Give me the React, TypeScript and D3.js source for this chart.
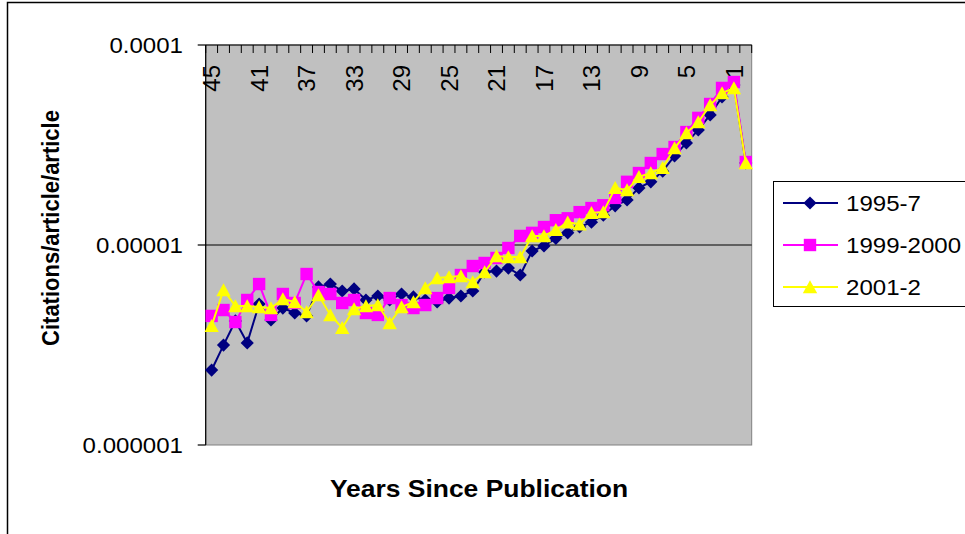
import React from 'react';
import * as d3 from 'd3';

const years = [45, 44, 43, 42, 41, 40, 39, 38, 37, 36, 35, 34, 33, 32, 31, 30, 29, 28, 27, 26, 25, 24, 23, 22, 21, 20, 19, 18, 17, 16, 15, 14, 13, 12, 11, 10, 9, 8, 7, 6, 5, 4, 3, 2, 1, 0];
const labelYears = [45, 41, 37, 33, 29, 25, 21, 17, 13, 9, 5, 1];

const s1995 = [2.37e-6, 3.16e-6, 4.17e-6, 3.24e-6, 5.07e-6, 4.22e-6, 4.84e-6, 4.57e-6, 4.42e-6, 6.17e-6, 6.38e-6, 5.89e-6, 6.03e-6, 5.31e-6, 5.56e-6, 5.31e-6, 5.69e-6, 5.5e-6, 5.31e-6, 5.19e-6, 5.43e-6, 5.56e-6, 5.89e-6, 7.33e-6, 7.41e-6, 7.67e-6, 7.08e-6, 9.33e-6, 9.89e-6, 1.08e-5, 1.15e-5, 1.23e-5, 1.3e-5, 1.41e-5, 1.57e-5, 1.68e-5, 1.93e-5, 2.07e-5, 2.34e-5, 2.79e-5, 3.24e-5, 3.76e-5, 4.47e-5, 5.5e-5, 6.31e-5, 2.57e-5];
const s1999 = [4.42e-6, 4.73e-6, 4.12e-6, 5.31e-6, 6.38e-6, 4.47e-6, 5.69e-6, 5.13e-6, 7.16e-6, 5.82e-6, 5.69e-6, 5.13e-6, 5.31e-6, 4.57e-6, 4.47e-6, 5.43e-6, 5.01e-6, 4.84e-6, 5.01e-6, 5.43e-6, 6.1e-6, 7.08e-6, 7.85e-6, 8.13e-6, 8.61e-6, 9.66e-6, 1.11e-5, 1.15e-5, 1.23e-5, 1.33e-5, 1.36e-5, 1.46e-5, 1.53e-5, 1.58e-5, 1.72e-5, 2.07e-5, 2.29e-5, 2.57e-5, 2.85e-5, 3.09e-5, 3.67e-5, 4.32e-5, 5.07e-5, 6.1e-5, 6.53e-5, 2.6e-5];
const s2001 = [3.94e-6, 5.96e-6, 4.95e-6, 4.95e-6, 4.9e-6, 4.84e-6, 5.37e-6, 5.19e-6, 4.62e-6, 5.62e-6, 4.47e-6, 3.85e-6, 4.79e-6, 4.95e-6, 5.01e-6, 4.07e-6, 4.9e-6, 5.19e-6, 6.1e-6, 6.84e-6, 6.92e-6, 7.0e-6, 6.53e-6, 7.33e-6, 8.81e-6, 8.71e-6, 8.71e-6, 1.11e-5, 1.11e-5, 1.19e-5, 1.3e-5, 1.27e-5, 1.45e-5, 1.46e-5, 1.93e-5, 1.88e-5, 2.19e-5, 2.29e-5, 2.43e-5, 3.05e-5, 3.63e-5, 4.12e-5, 5.01e-5, 5.75e-5, 6.1e-5, 2.57e-5];

const yTicks = [0.0001, 0.00001, 0.000001];
const yTickLabels = ['0.0001', '0.00001', '0.000001'];

const series = [
  { name: '1995-7', values: s1995, color: '#000080', marker: 'diamond' },
  { name: '1999-2000', values: s1999, color: '#ff00ff', marker: 'square' },
  { name: '2001-2', values: s2001, color: '#ffff00', marker: 'triangle' },
];

const FONT = '"Liberation Sans", Arial, Helvetica, sans-serif';
const SX = 1.12;

function Marker({ type, color, cx, cy }) {
  let d;
  if (type === 'diamond') d = 'M0,-6.6L6.6,0L0,6.6L-6.6,0Z';
  else if (type === 'square') d = 'M-6.2,-6.2H6.2V6.2H-6.2Z';
  else d = 'M0,-6.8L7.2,6.2L-7.2,6.2Z';
  return <path d={d} transform={`translate(${cx},${cy})`} fill={color} />;
}

export default function App() {
  const width = 965, height = 534;
  const left = 205.7, right = 751.7, top = 45, bottom = 445;

  const x = d3.scaleBand<number>().domain(years).range([left, right]).padding(0);
  const bw = x.bandwidth();
  const cx = (yr: number) => (x(yr) as number) + bw / 2;
  const y = d3.scaleLog().domain([1e-6, 1e-4]).range([bottom, top]);

  const line = d3.line<number>()
    .x((_, i) => cx(years[i]))
    .y(v => y(v));

  const tickXs = years.map(yr => x(yr) as number).concat([right]);

  return (
    <div style={{ position: 'absolute', left: 0, top: 0 }}>
      <svg width={width} height={height} style={{ display: 'block', fontFamily: FONT }}>
        <rect x={0} y={0} width={width} height={height} fill="#fff" />
        <rect x={7.5} y={2.5} width={1000} height={600} fill="none" stroke="#000" strokeWidth={1.5} />

        {/* plot area */}
        <rect x={left} y={top} width={right - left} height={bottom - top} fill="#c0c0c0" stroke="#808080" strokeWidth={1} />
        <line x1={left} x2={right} y1={y(1e-5)} y2={y(1e-5)} stroke="#000" strokeWidth={1.2} />

        {/* y axis */}
        <line x1={left} x2={left} y1={top} y2={bottom} stroke="#000" strokeWidth={1.2} />
        {yTicks.map((t, i) => (
          <g key={t}>
            <line x1={left - 8} x2={left} y1={y(t)} y2={y(t)} stroke="#000" strokeWidth={1.2} />
            <g transform={`translate(183,${y(t)}) scale(${SX},1)`}>
              <text textAnchor="end" dy="0.36em" fontSize={21.5} fill="#000">{yTickLabels[i]}</text>
            </g>
          </g>
        ))}

        {/* x axis (top) */}
        <line x1={left} x2={right} y1={top} y2={top} stroke="#000" strokeWidth={1.2} />
        {tickXs.map((tx, i) => (
          <line key={i} x1={tx} x2={tx} y1={top} y2={top + 8} stroke="#000" strokeWidth={1} />
        ))}
        {labelYears.map(yr => (
          <text key={yr} transform={`translate(${cx(yr)},65) rotate(-90)`} textAnchor="end" dy="0.36em" fontSize={24} fill="#000">{yr}</text>
        ))}

        {/* series */}
        {series.map(s => (
          <g key={s.name}>
            <path d={line(s.values) || ''} fill="none" stroke={s.color} strokeWidth={2} />
            {s.values.map((v, i) => (
              <Marker key={i} type={s.marker} color={s.color} cx={cx(years[i])} cy={y(v)} />
            ))}
          </g>
        ))}

        {/* axis titles */}
        <g transform={`translate(479,497) scale(1.15,1)`}>
          <text textAnchor="middle" fontSize={23} fontWeight="bold" fill="#000">Years Since Publication</text>
        </g>
        <g transform={`translate(50,228) scale(${SX},1) rotate(-90)`}>
          <text textAnchor="middle" dy="0.36em" fontSize={22} fontWeight="bold" fill="#000">Citations/article/article</text>
        </g>

        {/* legend */}
        <rect x={773.5} y={181.5} width={300} height={125} fill="#fff" stroke="#000" strokeWidth={1} />
        {series.map((s, i) => {
          const ly = 203 + i * 42;
          return (
            <g key={s.name}>
              <line x1={783} x2={838} y1={ly} y2={ly} stroke={s.color} strokeWidth={2} />
              <Marker type={s.marker} color={s.color} cx={810} cy={ly} />
              <g transform={`translate(846,${ly}) scale(${SX},1)`}>
                <text dy="0.36em" fontSize={21.5} fill="#000">{s.name}</text>
              </g>
            </g>
          );
        })}
      </svg>
    </div>
  );
}
